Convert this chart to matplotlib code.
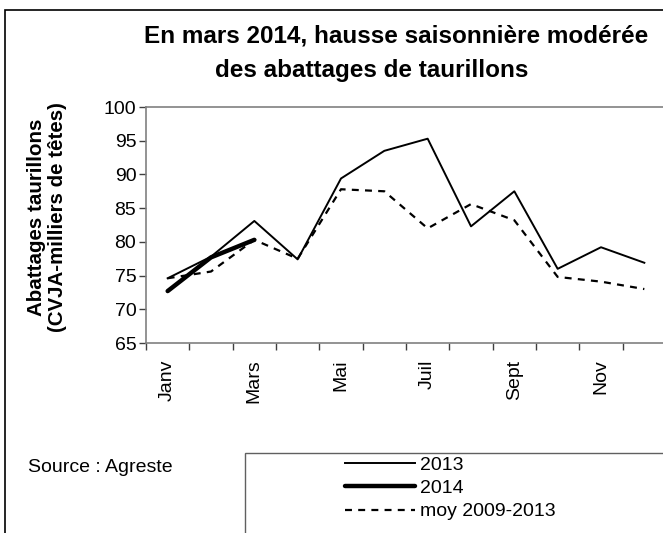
import matplotlib
matplotlib.use('Agg')
import matplotlib.pyplot as plt
from matplotlib.patches import Rectangle

plt.rcParams['font.family'] = ['Liberation Sans', 'DejaVu Sans']
plt.rcParams['lines.scale_dashes'] = False

months = ['Janv', 'Févr', 'Mars', 'Avr', 'Mai', 'Juin', 'Juil', 'Août', 'Sept', 'Oct', 'Nov', 'Déc']
shown = ['Janv', 'Mars', 'Mai', 'Juil', 'Sept', 'Nov']
y2013 = [74.6, 77.8, 83.1, 77.4, 89.4, 93.5, 95.3, 82.3, 87.5, 76.0, 79.2, 76.9]
y2014 = [72.7, 77.7, 80.3]
moy = [74.6, 75.6, 80.3, 77.5, 87.8, 87.5, 82.0, 85.6, 83.2, 74.8, 74.1, 73.0]

W, H = 663, 533
fig = plt.figure(figsize=(W / 100, H / 100), dpi=100)

def fx(px):
    return px / W

def fy(py):
    return 1 - py / H

ax = fig.add_axes([fx(146), fy(343), 520 / W, 236 / H])
x = list(range(len(months)))

l1, = ax.plot(x, y2013, color='black', lw=1.4, label='2013')
l2, = ax.plot(x[:len(y2014)], y2014, color='black', lw=3.2, label='2014', solid_capstyle='round')
l3, = ax.plot(x, moy, color='black', lw=1.6, dashes=(5, 4.5), label='moy 2009-2013')

ax.set_xlim(-0.5, 11.5)
ax.set_ylim(65, 100)
ax.set_yticks(range(65, 101, 5))
ax.set_xticks([i + 0.5 for i in range(-1, 11)], minor=False)
ax.set_xticklabels([])
ax.set_xticks([months.index(m) for m in shown], minor=True)
ax.set_xticklabels(shown, minor=True, rotation=90, fontsize=14, va='top')
ax.tick_params(axis='x', which='minor', length=0, pad=12)
ax.tick_params(axis='x', which='major', length=5, color='#404040', width=1)
ax.tick_params(axis='y', length=5, color='#404040', width=1, labelsize=14, pad=2)

for s in ['left', 'bottom', 'top']:
    ax.spines[s].set_color('#808080')
    ax.spines[s].set_linewidth(1.2)
ax.spines['right'].set_visible(False)

ax.set_ylabel('Abattages taurillons\n(CVJA-milliers de têtes)', fontsize=14.8,
              fontweight='bold', linespacing=1.1)
ax.yaxis.set_label_coords(-0.152, 0.532)

fig.text(fx(396), fy(36), 'En mars 2014, hausse saisonnière modérée', ha='center',
         va='center', fontsize=17.5, fontweight='bold')
fig.text(fx(372), fy(70), 'des abattages de taurillons', ha='center',
         va='center', fontsize=17.5, fontweight='bold')

fig.text(fx(28), fy(468), 'Source : Agreste', ha='left', va='center', fontsize=14)

# outer frame and legend frame
fig.add_artist(Rectangle((fx(5), -0.2), 2, fy(10) + 0.2, transform=fig.transFigure,
                         fill=False, edgecolor='black', lw=1.2))
fig.add_artist(Rectangle((fx(245), -0.2), 2, fy(453) + 0.2, transform=fig.transFigure,
                         fill=False, edgecolor='#606060', lw=1))

fig.legend(handles=[l1, l2, l3], loc='upper left', bbox_to_anchor=(fx(345), fy(456)),
           frameon=False, fontsize=14, handlelength=3.6, handletextpad=0.25,
           labelspacing=0.3, borderpad=0, borderaxespad=0)

fig.savefig('out.png', dpi=100)
